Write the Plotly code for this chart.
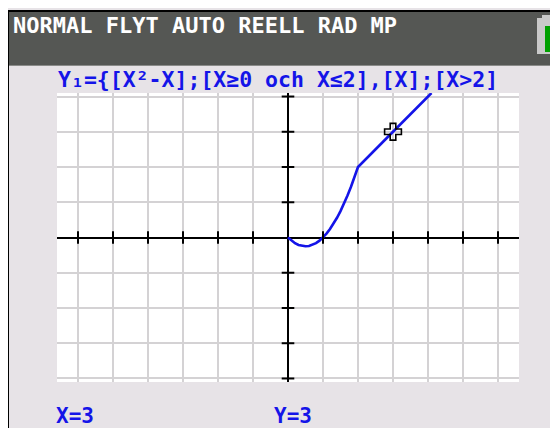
import plotly.graph_objects as go

curve_x = [0, 0.1, 0.2, 0.3, 0.4, 0.5, 0.6, 0.7, 0.8, 0.9, 1.0, 1.1, 1.2, 1.3, 1.4, 1.5, 1.6, 1.7, 1.8, 1.9, 2.0, 3.0, 4.1]
curve_y = [0, -0.09, -0.16, -0.21, -0.24, -0.25, -0.24, -0.21, -0.16, -0.09, 0, 0.11, 0.24, 0.39, 0.56, 0.75, 0.96,
           1.19, 1.44, 1.71, 2.0, 3.0, 4.1]
cursor_x = [3]
cursor_y = [3]
x_ticks = [-6, -5, -4, -3, -2, -1, 1, 2, 3, 4, 5, 6]
y_ticks = [-4, -3, -2, -1, 1, 2, 3, 4]
x_range = [-6.6, 6.6]
y_range = [-4.1, 4.1]
header_text = "NORMAL FLYT AUTO REELL RAD MP"
formula_text = "Y\u2081={[X\u00b2-X];[X\u22650 och X\u22642],[X];[X>2]"
x_label = "X=3"
y_label = "Y=3"

W, H = 558, 428
OFF = 8  # page body margin offset
def px(x): return (x - OFF) / W
def py(y): return 1 - (y - OFF) / H

BLUE = "#1414E8"
MONO = "DejaVu Sans Mono"

fig = go.Figure()
fig.add_trace(go.Scatter(x=curve_x, y=curve_y, mode="lines", line=dict(color=BLUE, width=2.6),
                         hoverinfo="skip"))
# axis tick marks
fig.add_trace(go.Scatter(x=x_ticks, y=[0]*len(x_ticks), mode="markers",
                         marker=dict(symbol="line-ns", size=9, line=dict(color="black", width=2)), hoverinfo="skip"))
fig.add_trace(go.Scatter(x=[0]*len(y_ticks), y=y_ticks, mode="markers",
                         marker=dict(symbol="line-ew", size=9, line=dict(color="black", width=2)), hoverinfo="skip"))
# cursor
fig.add_trace(go.Scatter(x=cursor_x, y=cursor_y, mode="markers",
                         marker=dict(symbol="cross-open", size=14, color="black", line=dict(color="black", width=1.6)),
                         hoverinfo="skip"))

axis_common = dict(showgrid=True, gridcolor="#D4D2D4", gridwidth=2, dtick=1, tick0=0,
                   zeroline=True, zerolinecolor="black", zerolinewidth=2,
                   showticklabels=False, ticks="", showline=False, fixedrange=True)
fig.update_layout(
    width=W, height=H, autosize=False,
    margin=dict(l=0, r=0, t=0, b=0),
    paper_bgcolor="#E7E3E7", plot_bgcolor="white",
    showlegend=False,
    xaxis=dict(range=x_range, domain=[px(57), px(519)], **axis_common),
    yaxis=dict(range=y_range, domain=[py(382), py(93)], **axis_common),
)

shapes = [
    dict(type="rect", x0=px(7), x1=1, y0=py(12), y1=py(10), fillcolor="black", line_width=0),
    dict(type="rect", x0=px(7), x1=px(9), y0=0, y1=py(10), fillcolor="black", line_width=0),
    dict(type="rect", x0=px(9), x1=1, y0=py(65), y1=py(12), fillcolor="#555754", line_width=0),
    dict(type="rect", x0=px(9), x1=1, y0=py(66), y1=py(65), fillcolor="#8A8B89", line_width=0),
    # battery
    dict(type="rect", x0=px(537), x1=1, y0=py(54), y1=py(18), fillcolor="#C9C9C9", line_width=0),
    dict(type="rect", x0=px(542), x1=px(552), y0=py(18), y1=py(15), fillcolor="#C9C9C9", line_width=0),
    dict(type="rect", x0=px(545), x1=px(556), y0=py(52), y1=py(26), fillcolor="#00A000", line_width=0),
]
for s in shapes:
    s.update(xref="paper", yref="paper", layer="above")
fig.update_layout(shapes=shapes)

ann = [
    dict(text=header_text, x=px(11), y=py(25), font=dict(family=MONO, size=22, color="white", weight="bold")),
    dict(text=formula_text, x=px(56), y=py(79), font=dict(family=MONO, size=21.5, color=BLUE, weight="bold")),
    dict(text=x_label, x=px(54), y=py(416), font=dict(family=MONO, size=21, color=BLUE, weight="bold")),
    dict(text=y_label, x=px(272), y=py(416), font=dict(family=MONO, size=21, color=BLUE, weight="bold")),
]
for a in ann:
    a.update(xref="paper", yref="paper", xanchor="left", yanchor="middle", showarrow=False)
fig.update_layout(annotations=ann)

fig.write_html("out.html")
